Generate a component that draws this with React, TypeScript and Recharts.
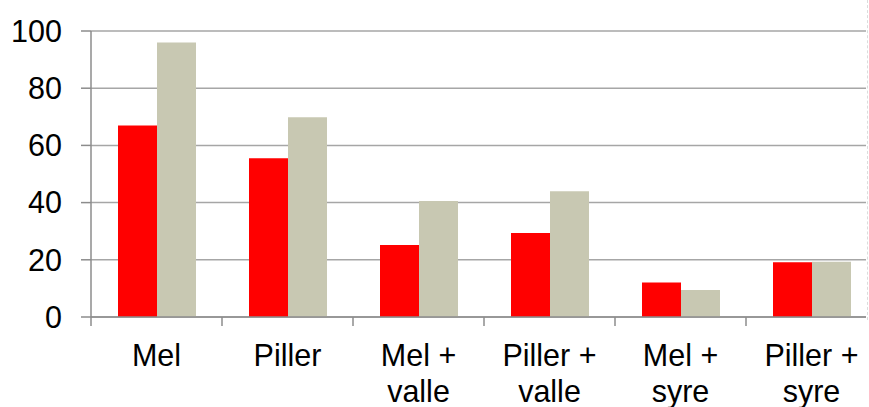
import { Bar, BarChart, CartesianGrid, XAxis, YAxis } from 'recharts'

const categories = ['Mel', 'Piller', 'Mel + valle', 'Piller + valle', 'Mel + syre', 'Piller + syre']
const tickLines = [['Mel'], ['Piller'], ['Mel +', 'valle'], ['Piller +', 'valle'], ['Mel +', 'syre'], ['Piller +', 'syre']]
const redValues = [67, 55.5, 25.2, 29.4, 12.1, 19.1]
const greyValues = [96, 69.8, 40.6, 44, 9.4, 19.3]
const yTicks = [0, 20, 40, 60, 80, 100]

const data = categories.map((c, i) => ({ name: c, red: redValues[i], grey: greyValues[i] }))

const LEFT = 91
const PLOT_W = 786
const BAND = PLOT_W / categories.length
const FONT = '"Liberation Sans", Arial, sans-serif'
const AXIS = '#8c8c8c'

function XTick({ x, y, index }: { x?: number; y?: number; index?: number }) {
  const cx = x ?? 0
  const cy = y ?? 0
  const lines = tickLines[index ?? 0] ?? []
  return (
    <g>
      <line x1={cx - BAND / 2} x2={cx - BAND / 2} y1={cy - 6} y2={cy + 3} stroke={AXIS} strokeWidth={1.5} />
      <text x={cx} y={cy + 43} textAnchor="middle" fontSize={30.5} fontFamily={FONT} fill="#000">
        {lines.map((l, i) => (
          <tspan key={i} x={cx} dy={i === 0 ? 0 : 36}>
            {l}
          </tspan>
        ))}
      </text>
    </g>
  )
}

export default function App() {
  return (
    <div style={{ position: 'fixed', left: 0, top: 0, width: 869, height: 407, background: '#fff' }}>
      <div style={{ position: 'absolute', left: 0, top: 0, width: 866, height: 407, overflow: 'hidden' }}>
        <BarChart
          width={LEFT + PLOT_W}
          height={407}
          data={data}
          margin={{ top: 31, right: 0, bottom: 0, left: 0 }}
          barGap={0}
          barCategoryGap={27}
        >
          <CartesianGrid horizontal vertical={false} stroke="#a6a6a6" strokeWidth={1.5} />
          <YAxis
            width={LEFT}
            domain={[0, 100]}
            ticks={yTicks}
            interval={0}
            tickSize={10}
            tickMargin={19}
            axisLine={{ stroke: AXIS, strokeWidth: 1.5 }}
            tickLine={{ stroke: AXIS, strokeWidth: 1.5 }}
            tick={{ fill: '#000', fontSize: 30.5, fontFamily: FONT }}
          />
          <XAxis
            dataKey="name"
            height={90}
            interval={0}
            tickLine={false}
            tickMargin={0}
            axisLine={{ stroke: AXIS, strokeWidth: 1.5 }}
            tick={<XTick />}
          />
          <Bar dataKey="red" fill="#ff0000" isAnimationActive={false} />
          <Bar dataKey="grey" fill="#c8c8b2" isAnimationActive={false} />
        </BarChart>
      </div>
      <div style={{ position: 'absolute', left: 867, top: 0, width: 0, height: 320, borderLeft: '1px dashed #dcdcdc' }} />
    </div>
  )
}
